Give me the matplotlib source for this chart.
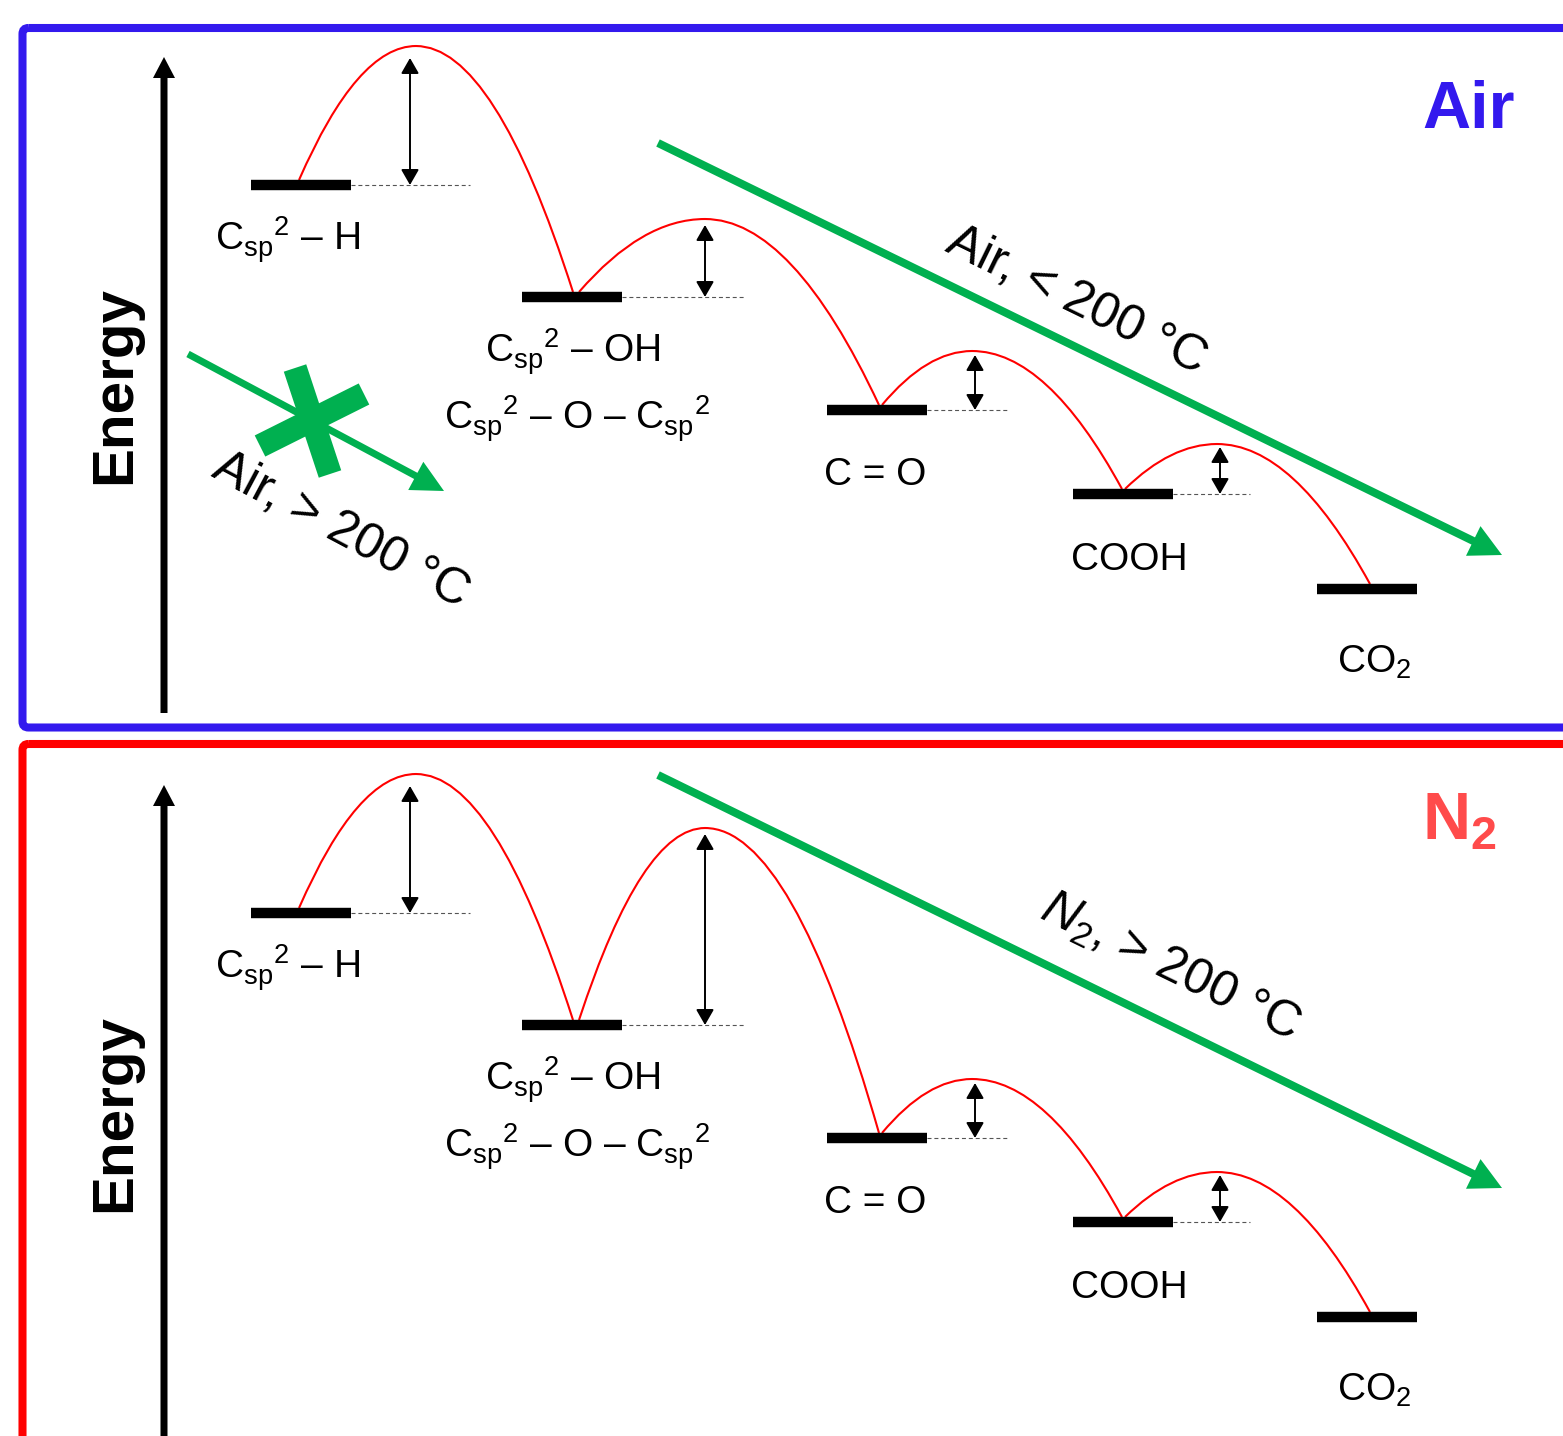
import matplotlib.pyplot as plt
from matplotlib.patches import FancyBboxPatch, PathPatch
from matplotlib.path import Path

plt.rcParams['font.family'] = ['Liberation Sans', 'DejaVu Sans']
plt.rcParams['mathtext.fontset'] = 'custom'
plt.rcParams['mathtext.rm'] = 'Liberation Sans'
plt.rcParams['mathtext.it'] = 'Liberation Sans:italic'
plt.rcParams['mathtext.bf'] = 'Liberation Sans:bold'

GREEN = '#00B050'
BLUE = '#3319EE'

# energy levels of the surface species (pixel units, top panel)
level_x = [301, 572, 877, 1123, 1367]
level_y = [185, 297, 410, 494, 589]
bar_half = 50

# transition states between neighbouring levels
barrier_x = [416, 705, 972, 1217]
barrier_air = [46, 219, 351, 444]
barrier_n2 = [46, 100, 351, 444]
curve_start_x = [299, 579, 882, 1125]
curve_end_x = [573, 879, 1122, 1370]

# activation-energy arrows and reference dashes
ea_x = [410, 705, 975, 1220]
ea_gap = [12, 6, 4, 3]
dash_end_x = [470, 745, 1008, 1250]

# species labels
label_text = [r'C$_{\mathrm{sp}}{}^{2}$ – H',
              r'C$_{\mathrm{sp}}{}^{2}$ – OH',
              r'C$_{\mathrm{sp}}{}^{2}$ – O – C$_{\mathrm{sp}}{}^{2}$',
              'C = O', 'COOH', r'CO$_{2}$']
label_x = [287, 573, 577, 875, 1129, 1374]
label_base = [251, 363, 430, 485, 570, 673]

panel_offset = [0, 728]
panel_barriers = [barrier_air, barrier_n2]


def draw_panel(ax, off, barriers):
    # energy axis
    ax.arrow(164, 713 + off, 0, 57 - 713, width=7, head_width=22,
             head_length=21, length_includes_head=True, fc='black', ec='none')
    ax.text(115, 385 + off, 'Energy', rotation=90, fontsize=42,
            fontweight='bold', ha='center', va='center')

    for x, y in zip(level_x, level_y):
        ax.plot([x - bar_half, x + bar_half], [y + off, y + off], color='black',
                lw=7.5, solid_capstyle='butt', zorder=3)

    for i in range(4):
        y0 = level_y[i] + off - 5
        y1 = level_y[i + 1] + off - 5
        xp, yp = barrier_x[i], barriers[i] + off
        x0, x1 = curve_start_x[i], curve_end_x[i]
        verts = [(x0, y0), ((x0 + xp) / 2, yp), (xp, yp),
                 ((xp + x1) / 2, yp), (x1, y1)]
        codes = [Path.MOVETO, Path.CURVE3, Path.CURVE3, Path.CURVE3, Path.CURVE3]
        ax.add_patch(PathPatch(Path(verts, codes), fc='none', ec='red', lw=1.5))

        ly = level_y[i] + off
        ax.plot([level_x[i] + bar_half, dash_end_x[i]], [ly, ly], color='#555555',
                lw=0.8, dashes=(3.6, 2.6))
        ax.annotate('', xy=(ea_x[i], yp + ea_gap[i]), xytext=(ea_x[i], ly),
                    arrowprops=dict(arrowstyle='<|-|>,head_length=0.47,head_width=0.27',
                                    color='black', lw=1.4, mutation_scale=20,
                                    shrinkA=0, shrinkB=0))

    for t, x, y in zip(label_text, label_x, label_base):
        ax.text(x, y + off, t, fontsize=28, ha='center', va='baseline')


fig = plt.figure(figsize=(15.63, 14.36), dpi=100)
ax = fig.add_axes([0, 0, 1, 1])
ax.set_xlim(0, 1563)
ax.set_ylim(1436, 0)
ax.axis('off')

# panel frames
ax.add_patch(FancyBboxPatch((22.5, 28), 1600, 699.5, boxstyle='round,pad=0,rounding_size=6',
                            fc='none', ec=BLUE, lw=5.8))
ax.add_patch(FancyBboxPatch((22.5, 744), 1600, 760, boxstyle='round,pad=0,rounding_size=6',
                            fc='none', ec='red', lw=5.8))

for off, barriers in zip(panel_offset, panel_barriers):
    draw_panel(ax, off, barriers)

ax.text(1422, 128, 'Air', fontsize=48, fontweight='bold', color=BLUE,
        ha='left', va='baseline')
ax.text(1422, 840, r'$\mathbf{N_{2}}$', fontsize=48, color='#FF4B4B',
        ha='left', va='baseline')

# reaction pathways
ax.arrow(658, 143, 1502 - 658, 555 - 143, width=8, head_width=33, head_length=32,
         length_includes_head=True, fc=GREEN, ec='none', zorder=4)
ax.text(1077, 300, 'Air, < 200 °C', fontsize=36, rotation=-26, rotation_mode='anchor',
        ha='center', va='center')

ax.arrow(188, 354, 444 - 188, 491 - 354, width=7, head_width=32, head_length=32,
         length_includes_head=True, fc=GREEN, ec='none', zorder=4)
ax.plot([295, 330], [368, 474], color=GREEN, lw=17, solid_capstyle='butt', zorder=4)
ax.plot([260, 364], [446, 394], color=GREEN, lw=17, solid_capstyle='butt', zorder=4)
ax.text(341, 530, 'Air, > 200 °C', fontsize=36, rotation=-28, rotation_mode='anchor',
        ha='center', va='center')

ax.arrow(658, 775, 1502 - 658, 1188 - 775, width=8, head_width=33, head_length=32,
         length_includes_head=True, fc=GREEN, ec='none', zorder=4)
ax.text(1170, 967, r'$\mathit{N_{2}}$, > 200 °C', fontsize=36, rotation=-26,
        rotation_mode='anchor', ha='center', va='center')

fig.savefig('out.png', dpi=100)
